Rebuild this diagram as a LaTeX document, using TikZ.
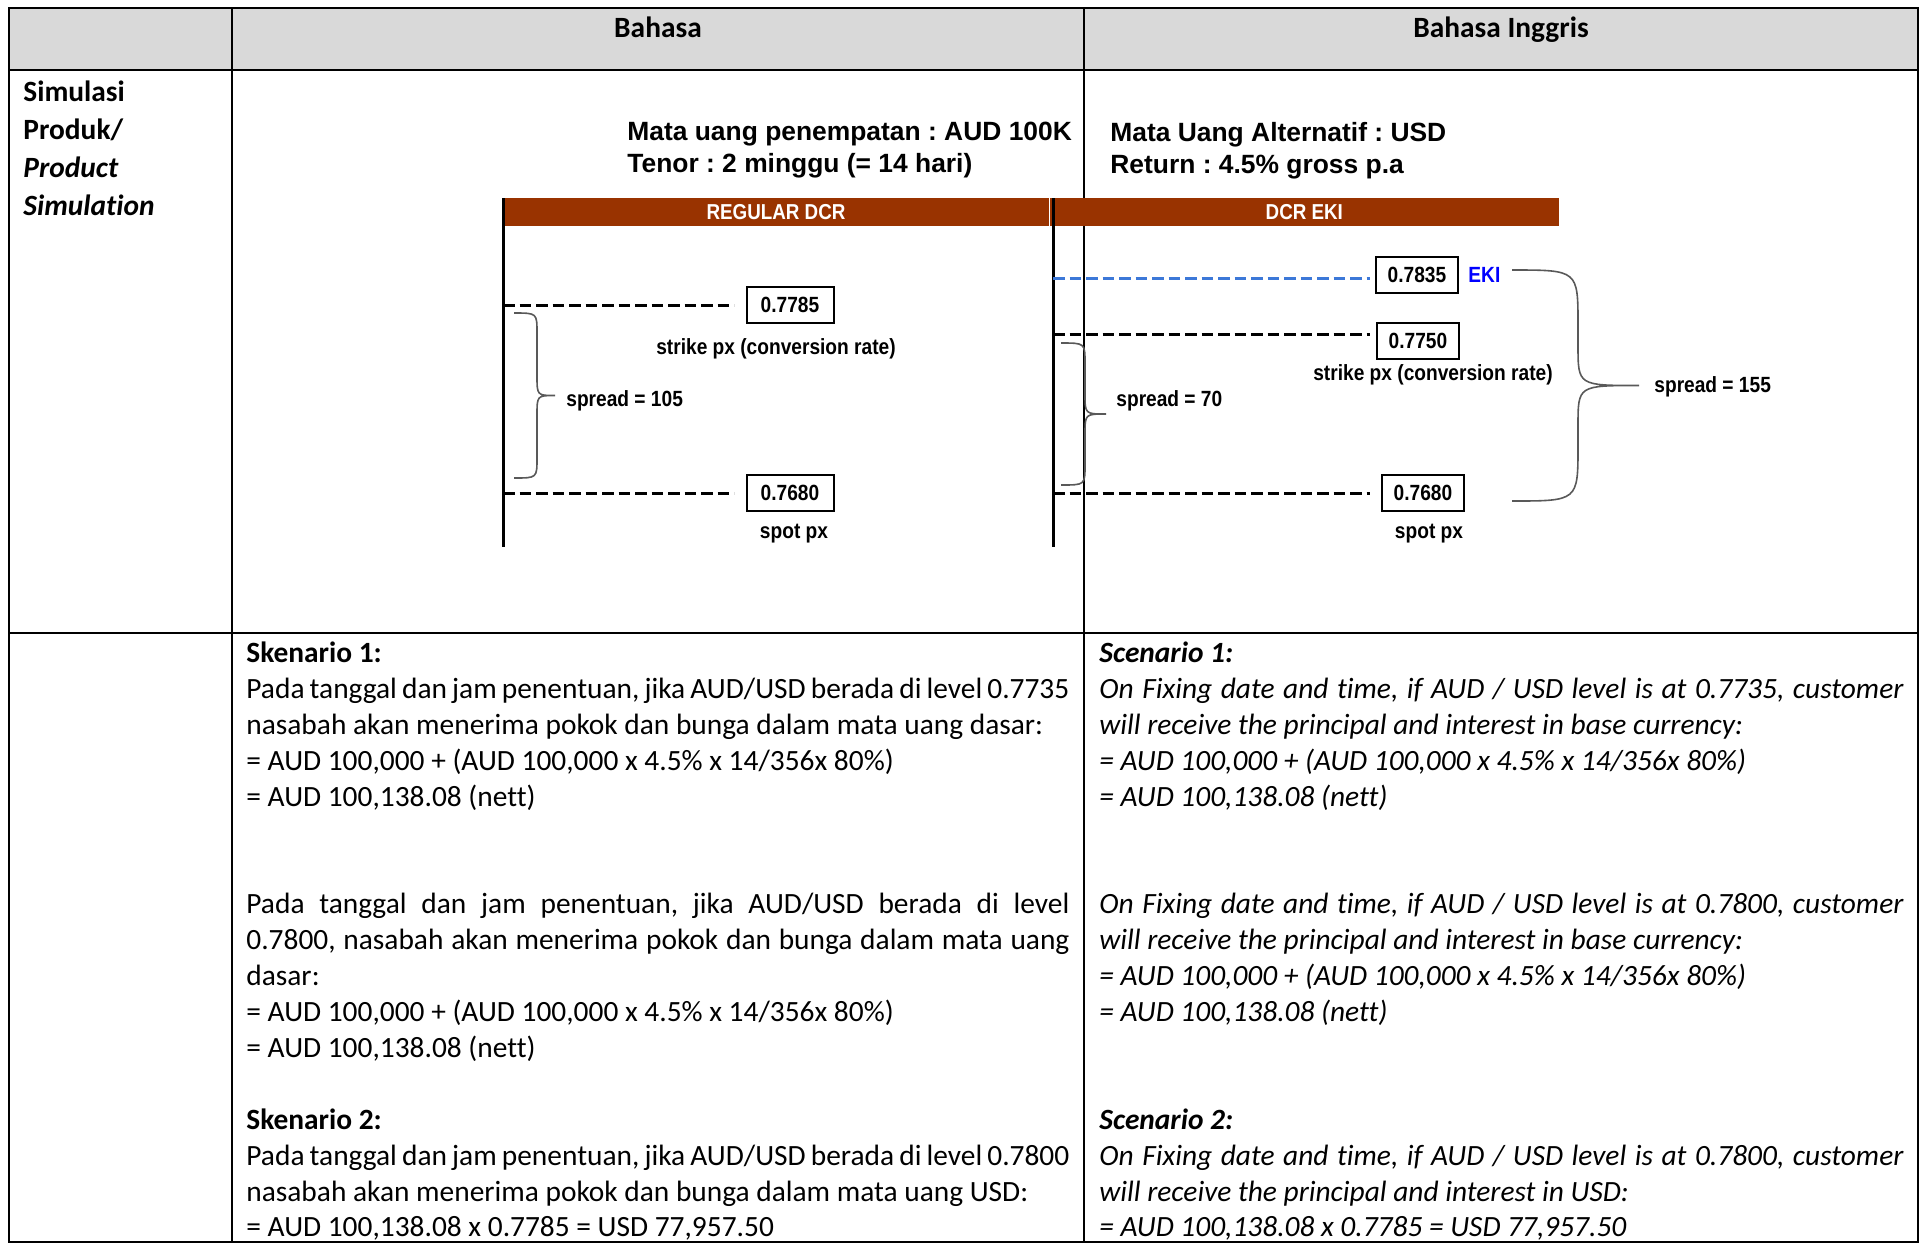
\documentclass[tikz,border=0pt]{standalone}
\usepackage{fontspec}
\setmainfont{Carlito}[Ligatures={TeX,NoCommon}]
\newfontfamily\arialfont{Liberation Sans}
\newfontfamily\narrowfont[FakeStretch=0.87]{Liberation Sans}
\usetikzlibrary{positioning}
\frenchspacing
\definecolor{hdrgray}{HTML}{D9D9D9}
\definecolor{barbrown}{HTML}{993300}
\definecolor{ekiblue}{HTML}{3C78D8}
\definecolor{bracegray}{HTML}{595959}
\tikzset{node distance=2.5cm, auto,
  gridln/.style={line width=1.1pt},
  hdtxt/.style={font=\bfseries\fontsize{14.7}{18}\selectfont, anchor=base},
  celltxt/.style={anchor=north west, inner sep=0pt, align=left, text width=440pt,
    font=\fontsize{14.7}{17.95}\selectfont,
    execute at begin node={\spaceskip=0pt\xspaceskip=0pt}},
  ttl/.style={anchor=west, inner sep=0pt, align=left,
    font=\arialfont\bfseries\fontsize{13.2}{16}\selectfont,
    execute at begin node={\spaceskip=0pt\xspaceskip=0pt}},
  titlebar/.style={fill=barbrown, text=white, inner sep=0pt, minimum height=14pt,
    font=\narrowfont\bfseries\fontsize{10.8}{12}\selectfont},
  axisln/.style={line width=1.5pt},
  dashln/.style={line width=1.5pt, dash pattern=on 5.75pt off 2.5pt},
  pxbox/.style={draw, line width=1pt, fill=white, inner sep=0pt, minimum width=41pt,
    minimum height=18pt, font=\narrowfont\bfseries\fontsize{11}{13}\selectfont},
  chartlbl/.style={inner sep=0pt, font=\narrowfont\bfseries\fontsize{11}{13}\selectfont},
  brc/.style={draw=bracegray, line width=0.8pt}
}
% #1 x of the ends, #2 top, #3 bottom, #4 spine x, #5 tip x, #6/#7 bend sizes
\newcommand{\curlybrace}[7]{%
  \draw[brc] (#1,#2) .. controls (#4,#2) .. (#4,{#2+#6})
    -- (#4,{(#2+#3)/2-#7}) .. controls (#4,{(#2+#3)/2}) .. (#5,{(#2+#3)/2})
    .. controls (#4,{(#2+#3)/2}) .. (#4,{(#2+#3)/2+#7})
    -- (#4,{#3-#6}) .. controls (#4,#3) .. (#1,#3);}

\begin{document}
\begin{tikzpicture}[x=0.5pt, y=-0.5pt]
  \useasboundingbox (0,0) rectangle (1921,1244);
  % table
  \fill[hdrgray] (9,8) rectangle (1918,70);
  \draw[gridln] (9,8) rectangle (1918,1242);
  \draw[gridln] (9,70) -- (1918,70);
  \draw[gridln] (9,633) -- (1918,633);
  \draw[gridln] (232,8) -- (232,1242);
  \draw[gridln] (1084,8) -- (1084,1242);

  \node[hdtxt] (hdA) at (658,37) {Bahasa};
  \node[hdtxt] (hdB) at (1501,37) {Bahasa Inggris};
  \node[celltxt, text width=180pt, font=\bfseries\fontsize{14.7}{19.15}\selectfont] (simlbl) at (23,80)
    {Simulasi\\Produk/\\\textit{Product}\\\textit{Simulation}};

  % chart
  \node[ttl] (ttlA) at (627,150.5) {Mata uang penempatan : AUD 100K\\Tenor : 2 minggu (= 14 hari)};
  \node[ttl] (ttlB) at (1110,150.5) {Mata Uang Alternatif : USD\\Return : 4.5\% gross p.a};
  \node[titlebar, minimum width=273pt] (barA) at (776,212) {REGULAR DCR};
  \node[titlebar, minimum width=254.5pt, right=0pt of barA] (barB) {DCR EKI};
  \coordinate (axA) at (503,198);
  \coordinate (axB) at (1053,198);
  \draw[axisln] (axA) -- ++(0,349);
  \draw[axisln] (axB) -- ++(0,349);

  \node[pxbox, minimum width=43.5pt] (pxA1) at (790,305) {0.7785};
  \node[pxbox, minimum width=43.5pt] (pxA2) at (790,493) {0.7680};
  \node[pxbox] (pxB0) at (1417,275) {0.7835};
  \node[pxbox] (pxB1) at (1418,341) {0.7750};
  \node[pxbox] (pxB2) at (1423,493) {0.7680};

  \coordinate (endA) at (734,0);
  \coordinate (endB) at (1370,0);
  \coordinate (lvB0) at (1053,278);
  \coordinate (lvB1) at (1053,334);
  \draw[dashln] (axA |- pxA1) -- (endA |- pxA1);
  \draw[dashln] (axA |- pxA2) -- (endA |- pxA2);
  \draw[dashln, draw=ekiblue] (lvB0) -- (endB |- lvB0);
  \draw[dashln] (lvB1) -- (endB |- lvB1);
  \draw[dashln] (axB |- pxB2) -- (endB |- pxB2);

  \node[chartlbl] (strkA) at (776,349) {strike px (conversion rate)};
  \node[chartlbl] (spotA) at (794,534) {spot px};
  \node[chartlbl] (strkB) at (1433,375) {strike px (conversion rate)};
  \node[chartlbl] (spotB) at (1429,534) {spot px};
  \node[chartlbl, text=blue, right=4.5pt of pxB0] (ekilbl) {EKI};

  \curlybrace{514}{313}{478}{537}{555}{20}{20}
  \curlybrace{1061}{343}{485}{1085}{1106}{20}{20}
  \curlybrace{1512}{270}{501}{1578}{1639}{55}{40}
  \node[chartlbl, anchor=west] (sprA) at (566,401) {spread = 105};
  \node[chartlbl, anchor=west] (sprB) at (1116,401) {spread = 70};
  \node[chartlbl, anchor=west] (sprC) at (1654,387) {spread = 155};

  % scenarios
  \node[celltxt] (scnA) at (246,641.5) {\textbf{Skenario 1:}\\
    \makebox[411.5pt][s]{Pada tanggal dan jam penentuan, jika AUD/USD berada di level 0.7735}\\
    nasabah akan menerima pokok dan bunga dalam mata uang dasar:\\
    = AUD 100,000 + (AUD 100,000 x 4.5\% x 14/356x 80\%)\\
    = AUD 100,138.08 (nett)\\[35.9pt]
    \makebox[411.5pt][s]{Pada tanggal dan jam penentuan, jika AUD/USD berada di level}\\
    \makebox[411.5pt][s]{0.7800, nasabah akan menerima pokok dan bunga dalam mata uang}\\
    dasar:\\
    = AUD 100,000 + (AUD 100,000 x 4.5\% x 14/356x 80\%)\\
    = AUD 100,138.08 (nett)\\[17.95pt]
    \textbf{Skenario 2:}\\
    \makebox[411.5pt][s]{Pada tanggal dan jam penentuan, jika AUD/USD berada di level 0.7800}\\
    nasabah akan menerima pokok dan bunga dalam mata uang USD:\\
    = AUD 100,138.08 x 0.7785 = USD 77,957.50};
  \node[celltxt, font=\itshape\fontsize{14.7}{17.95}\selectfont] (scnB) at (1099,641.5) {\textbf{Scenario 1:}\\
    \makebox[402pt][s]{On Fixing date and time, if AUD / USD level is at 0.7735, customer}\\
    will receive the principal and interest in base currency:\\
    = AUD 100,000 + (AUD 100,000 x 4.5\% x 14/356x 80\%)\\
    = AUD 100,138.08 (nett)\\[35.9pt]
    \makebox[402pt][s]{On Fixing date and time, if AUD / USD level is at 0.7800, customer}\\
    will receive the principal and interest in base currency:\\
    = AUD 100,000 + (AUD 100,000 x 4.5\% x 14/356x 80\%)\\
    = AUD 100,138.08 (nett)\\[35.9pt]
    \textbf{Scenario 2:}\\
    \makebox[402pt][s]{On Fixing date and time, if AUD / USD level is at 0.7800, customer}\\
    will receive the principal and interest in USD:\\
    = AUD 100,138.08 x 0.7785 = USD 77,957.50};
\end{tikzpicture}
\end{document}
